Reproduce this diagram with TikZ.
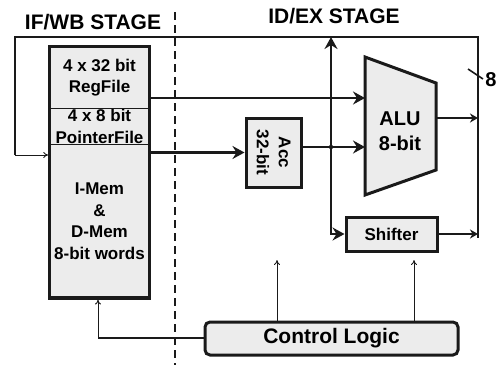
\documentclass[tikz,border=0pt]{standalone}
\usepackage{fontspec}
\setmainfont{Liberation Sans}
\usepackage{tikz}
\usetikzlibrary{arrows.meta,positioning,fit}
\definecolor{blkfill}{HTML}{ECECEC}
\definecolor{ink}{HTML}{1A1A1A}

\begin{document}
\begin{tikzpicture}[x=1pt, y=-1pt,
  cell/.style={fill=blkfill, inner sep=0pt, minimum width=99pt, align=center,
               font=\fontsize{17}{21.5}\selectfont\bfseries},
  membox/.style={draw=ink, line width=3.2pt, inner sep=0pt},
  block/.style={draw=ink, fill=blkfill, line width=3pt, inner sep=0pt,
                align=center, font=\fontsize{17}{22}\selectfont\bfseries},
  ctlbox/.style={block, rounded corners=5pt, font=\fontsize{21}{24}\selectfont\bfseries},
  stage/.style={font=\fontsize{21}{24}\selectfont\bfseries},
  divider/.style={draw=ink, line width=1.2pt},
  wire/.style={draw=ink, line width=2.6pt},
  arr/.style={wire, -{Stealth[length=12pt, width=13pt, inset=4pt]}},
  arrs/.style={wire, line width=2pt, -{Stealth[length=8pt, width=9pt, inset=2.5pt]}},
  thin/.style={draw=ink, line width=0.9pt, -{To[length=5pt, width=6pt]}}
]
  \useasboundingbox (0,0) rectangle (500,365);

  \node[stage] (ifwb) at (93,22) {IF/WB STAGE};
  \node[stage] (idex) at (334,16) {ID/EX STAGE};
  \draw[ink, line width=2pt, dash pattern=on 8pt off 5pt] (175,12) -- (175,365);

  \node[cell, minimum height=61pt] (regfile) at (99.5,77.5) {4 x 32 bit\\RegFile};
  \node[cell, minimum height=36pt, below=0pt of regfile] (ptrfile) {4 x 8 bit\\PointerFile};
  \node[cell, minimum height=153pt, below=0pt of ptrfile] (mem) {I-Mem\\\&\\D-Mem\\8-bit words};
  \draw[divider] (regfile.south west) -- (regfile.south east);
  \draw[divider] (ptrfile.south west) -- (ptrfile.south east);
  \node[membox, fit=(regfile)(mem)] (memblk) {};

  \node[block, minimum width=69pt, minimum height=55pt, rotate=-90] (acc) at (273.5,152.5) {Acc\\32-bit};
  \node[block, minimum width=91pt, minimum height=34pt] (shifter) at (391.5,234) {Shifter};
  \node[ctlbox, minimum width=253pt, minimum height=33pt] (ctrl) at (331.5,338.5) {Control Logic};

  \coordinate (aluTL) at (365,57);
  \coordinate (aluTR) at (436,83);
  \coordinate (aluBR) at (436,170);
  \coordinate (aluBL) at (365,195);
  \draw[draw=ink, fill=blkfill, line width=3pt] (aluTL) -- (aluTR) -- (aluBR) -- (aluBL) -- cycle;
  \node[align=center, font=\fontsize{20}{25}\selectfont\bfseries] (alu) at (400,131) {ALU\\8-bit};

  \coordinate (fbk) at (15,155);
  \coordinate (busL) at (15,37);
  \coordinate (busR) at (478,37);
  \coordinate (busE) at (478,238);
  \coordinate (tap) at (331,147);
  \coordinate (aluO) at (436,118);
  \coordinate (memIn) at (98,338);
  \coordinate (ctlA) at (277,260);
  \coordinate (ctlB) at (414,260);

  \draw[wire] (fbk) -- (busL) -- (busR) -- (busE);
  \draw[thin] (fbk) -- (fbk -| memblk.west);
  \draw[arr] (memblk.east |- 0,98) -- (aluTL |- 0,98);
  \draw[arr] (acc.south -| memblk.east) -- (acc.south);
  \draw[wire] (acc.north |- tap) -- (tap);
  \draw[arr] (tap) -- (aluTL |- tap);
  \fill[ink] (tap) circle (2.2pt);
  \draw[arr] (tap) -- (tap |- busL);
  \draw[arr] (tap) -- (tap |- shifter.west) -- (shifter.west);
  \draw[arrs] (aluO) -- (aluO -| busR);
  \draw[arrs] (shifter.east) -- (shifter.east -| busR);
  \draw[draw=ink, line width=1.6pt] (468,69) -- (483,79);
  \node[font=\fontsize{20}{24}\selectfont\bfseries] (width) at (491,80) {8};

  \draw[wire] (ctrl.west |- memIn) -- (memIn);
  \draw[thin] (memIn) -- (memIn |- memblk.south);
  \draw[thin] (ctrl.north -| ctlA) -- (ctlA);
  \draw[thin] (ctrl.north -| ctlB) -- (ctlB);
\end{tikzpicture}
\end{document}
